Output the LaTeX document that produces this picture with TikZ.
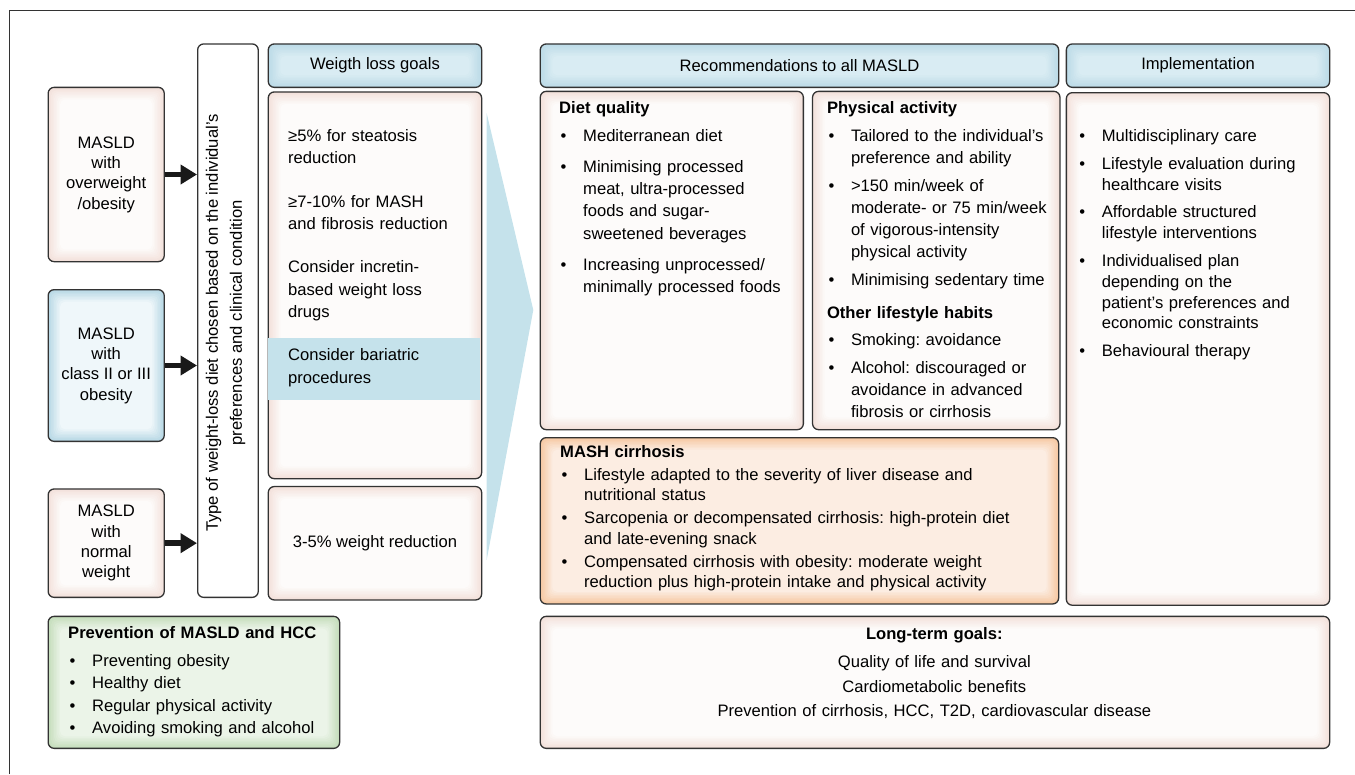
\documentclass[tikz,border=0pt]{standalone}
\usepackage{fontspec}
\setmainfont{Liberation Sans}
\usetikzlibrary{arrows.meta,positioning}
\frenchspacing

\definecolor{edge}{HTML}{333333}
\definecolor{pinkin}{HTML}{FDFBFA}
\definecolor{pinkout}{HTML}{F3E1DB}
\definecolor{hdrin}{HTML}{D9ECF3}
\definecolor{hdrout}{HTML}{BCDBE7}
\definecolor{bluein}{HTML}{EFF7FA}
\definecolor{blueout}{HTML}{B8D8E5}
\definecolor{orangein}{HTML}{FCEDE2}
\definecolor{orangeout}{HTML}{F6C9A3}
\definecolor{greenin}{HTML}{EBF4E8}
\definecolor{greenout}{HTML}{C5DDBB}
\definecolor{band}{HTML}{C5E2EB}

% soft inner glow for the boxes: outer colour at the border, inner colour in the middle
\tikzset{glow/.style 2 args={fill=#2,path picture={
  \foreach \i in {1,...,8}{\pgfmathtruncatemacro\pc{\i*12.5}
    \fill[#1!\pc!#2,rounded corners=5pt] ([shift={(1.5*\i,1.5*\i)}]path picture bounding box.north west)
      rectangle ([shift={(-1.5*\i,-1.5*\i)}]path picture bounding box.south east);}}}}

\newcommand\boxfont{\fontsize{16.6}{20.3}\selectfont}
\newcommand\bul[1]{\noindent\hangindent=24pt\hangafter=1\makebox[24pt][l]{\hspace{1.5pt}\textbullet}#1\par}
\newcommand\hd[2][0pt]{\textbf{#2}\par\vspace{#1}}

\begin{document}
\begin{tikzpicture}[x=1pt,y=-1pt]
  \tikzstyle{box}=[draw=edge,line width=1.3pt,rounded corners=6pt,anchor=north west,inner sep=0pt,font=\boxfont,align=center]
  \tikzstyle{pinkbox}=[box,glow={pinkin}{pinkout}]
  \tikzstyle{bluebox}=[box,glow={bluein}{blueout}]
  \tikzstyle{hdrbox}=[box,glow={hdrin}{hdrout}]
  \tikzstyle{orangebox}=[box,glow={orangein}{orangeout}]
  \tikzstyle{greenbox}=[box,glow={greenin}{greenout}]
  \tikzstyle{list}=[anchor=base west,inner sep=0pt,text width=500pt,align=left]
  \tikzstyle{fatarrow}=[draw=black!90,line width=5.7pt,-{Triangle[length=16.5pt,width=19pt]}]

  \useasboundingbox (0,0) rectangle (1355,774);
  \draw[edge,line width=1.1pt] (9.6,774) -- (9.6,10.7) -- (1355,10.7);

  % patient groups
  \node[pinkbox,minimum width=116.1pt,minimum height=174.3pt] (ovw) at (47.5,86.7) {MASLD\\with\\overweight\\/obesity};
  \node[bluebox,minimum width=116.1pt,minimum height=151.7pt] (cls) at (47.5,289) {MASLD\\with\\class II or III\\obesity};
  \node[pinkbox,minimum width=116.1pt,minimum height=108.4pt] (nrm) at (47.5,488.3) {MASLD\\with\\normal\\weight};

  % type of diet
  \node[box,fill=white,minimum width=60.6pt,minimum height=553.4pt] (type) at (197,43.3) {};
  \node[rotate=90,inner sep=0pt,align=center,font=\fontsize{16.6}{24}\selectfont] (typetxt) at (225.5,323)
    {Type of weight-loss diet chosen based on the individual’s\\preferences and clinical condition};

  \draw[fatarrow] (ovw.east) -- (ovw.east -| type.west);
  \draw[fatarrow] (cls.east) -- (cls.east -| type.west);
  \draw[fatarrow] (nrm.east) -- (nrm.east -| type.west);

  % weight loss goals
  \fill[band] (486.7,113.3) -- (533.3,310) -- (486.7,560) -- cycle;
  \node[hdrbox,minimum width=213.4pt,minimum height=43.4pt] (goalhd) at (267.6,43.3) {Weigth loss goals};
  \node[pinkbox,minimum width=213.4pt,minimum height=386.7pt,below=3.3pt of goalhd] (goals) {};
  \fill[band] (268.3,337.7) rectangle (480.3,400);
  \node[list,font=\fontsize{16.6}{22.3}\selectfont] (goaltxt) at (288,141.5)
    {\setlength\parskip{21.1pt}≥5\% for steatosis\newline reduction\par
     ≥7-10\% for MASH\newline and fibrosis reduction\par
     Consider incretin-\newline based weight loss\newline drugs\par
     Consider bariatric\newline procedures};
  \node[pinkbox,minimum width=213.4pt,minimum height=113.4pt,below=6.6pt of goals] (red) {3-5\% weight reduction};

  % recommendations
  \node[hdrbox,minimum width=518.4pt,minimum height=43.4pt] (rechd) at (539.6,43.3) {Recommendations to all MASLD};
  \node[pinkbox,minimum width=263.1pt,minimum height=338.3pt] (diet) at (539.6,90.7) {};
  \node[pinkbox,minimum width=247.4pt,minimum height=338.3pt,right=7.9pt of diet] (phys) {};
  \node[orangebox,minimum width=518.4pt,minimum height=166.3pt] (mash) at (539.6,437) {};

  \node[list,font=\fontsize{16.6}{22.3}\selectfont] (diettxt) at (559,113.8)
    {\setlength\parskip{8.7pt}\hd[-3.5pt]{Diet quality}%
     \bul{Mediterranean diet}%
     \bul{Minimising processed\newline meat, ultra-processed\newline foods and sugar-\newline sweetened beverages}%
     \bul{Increasing unprocessed/\newline minimally processed foods}};
  \node[list,font=\fontsize{16.6}{22}\selectfont] (phystxt) at (826.8,113.8)
    {\setlength\parskip{5.8pt}\hd{Physical activity}%
     \bul{Tailored to the individual’s\newline preference and ability}%
     \bul{>150 min/week of\newline moderate- or 75 min/week\newline of vigorous-intensity\newline physical activity}%
     \bul{Minimising sedentary time}%
     \vspace{5pt}\hd{Other lifestyle habits}%
     \bul{Smoking: avoidance}%
     \bul{Alcohol: discouraged or\newline avoidance in advanced\newline fibrosis or cirrhosis}};
  \node[list,font=\fontsize{16.6}{20.5}\selectfont] (mashtxt) at (560,457.2)
    {\setlength\parskip{2.5pt}\hd{MASH cirrhosis}%
     \bul{Lifestyle adapted to the severity of liver disease and\newline nutritional status}%
     \bul{Sarcopenia or decompensated cirrhosis: high-protein diet\newline and late-evening snack}%
     \bul{Compensated cirrhosis with obesity: moderate weight\newline reduction plus high-protein intake and physical activity}};

  % implementation
  \node[hdrbox,minimum width=263.3pt,minimum height=43.4pt] (implhd) at (1065.7,43.3) {Implementation};
  \node[pinkbox,minimum width=263.3pt,minimum height=512.6pt,below=4pt of implhd] (impl) {};
  \node[list,font=\fontsize{16.6}{20.8}\selectfont] (impltxt) at (1077.7,141.5)
    {\setlength\parskip{7pt}%
     \bul{Multidisciplinary care}%
     \bul{Lifestyle evaluation during\newline healthcare visits}%
     \bul{Affordable structured\newline lifestyle interventions}%
     \bul{Individualised plan\newline depending on the\newline patient’s preferences and\newline economic constraints}%
     \bul{Behavioural therapy}};

  % long-term goals
  \node[pinkbox,minimum width=789.4pt,minimum height=132pt] (longterm) at (539.6,615.7) {};
  \node[anchor=base,inner sep=0pt,text width=600pt,align=center,font=\fontsize{16.6}{24.5}\selectfont] (longtxt) at (934.3,639.5)
    {\textbf{Long-term goals:}\\[3.5pt]
     Quality of life and survival\\
     Cardiometabolic benefits\\
     Prevention of cirrhosis, HCC, T2D, cardiovascular disease};

  % prevention
  \node[greenbox,minimum width=291.5pt,minimum height=132pt] (prev) at (47.5,615.7) {};
  \node[list,font=\fontsize{16.6}{22.5}\selectfont] (prevtxt) at (68,638.2)
    {\hd[5.5pt]{Prevention of MASLD and HCC}%
     \bul{Preventing obesity}%
     \bul{Healthy diet}%
     \bul{Regular physical activity}%
     \bul{Avoiding smoking and alcohol}};
\end{tikzpicture}
\end{document}
